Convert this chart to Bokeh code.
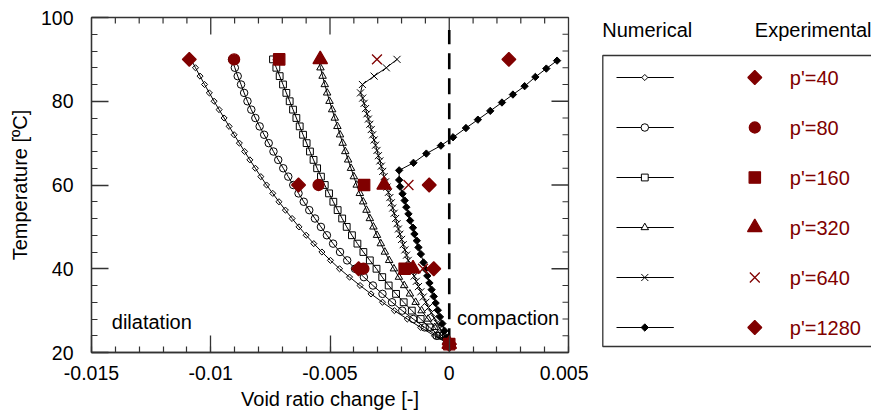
import numpy as np
from bokeh.plotting import figure
from bokeh.layouts import row
from bokeh.models import Range1d, LinearAxis, FixedTicker, Label
from bokeh.core.properties import value
from bokeh.embed import file_html
from bokeh.resources import INLINE

# ---------------- data ----------------
# numerical curves p'=40..320: one marker every 2 degC
T_num = [22, 24, 26, 28, 30, 32, 34, 36, 38, 40, 42, 44, 46, 48, 50, 52, 54, 56,
         58, 60, 62, 64, 66, 68, 70, 72, 74, 76, 78, 80, 82, 84, 86, 88, 90]
x_num_40 = [0, -0.00062, -0.00120, -0.00176, -0.00230, -0.00280, -0.00328, -0.00374,
            -0.00418, -0.00460, -0.00498, -0.00534, -0.00568, -0.00600, -0.00630,
            -0.00659, -0.00687, -0.00714, -0.00740, -0.00766, -0.00790, -0.00813,
            -0.00836, -0.00858, -0.00880, -0.00902, -0.00923, -0.00944, -0.00965,
            -0.00986, -0.01006, -0.01026, -0.01045, -0.01064, -0.01083]
x_num_80 = [0, -0.00053, -0.00103, -0.00151, -0.00197, -0.00240, -0.00280, -0.00320,
            -0.00358, -0.00395, -0.00428, -0.00458, -0.00487, -0.00513, -0.00538,
            -0.00563, -0.00587, -0.00610, -0.00632, -0.00654, -0.00675, -0.00696,
            -0.00717, -0.00737, -0.00757, -0.00776, -0.00795, -0.00813, -0.00830,
            -0.00846, -0.00860, -0.00873, -0.00887, -0.00899, -0.00911]
x_num_160 = [0, -0.00042, -0.00082, -0.00120, -0.00157, -0.00191, -0.00223, -0.00254,
             -0.00281, -0.00305, -0.00333, -0.00360, -0.00385, -0.00408, -0.00430,
             -0.00449, -0.00468, -0.00486, -0.00504, -0.00522, -0.00538, -0.00554,
             -0.00569, -0.00584, -0.00598, -0.00613, -0.00627, -0.00641, -0.00655,
             -0.00669, -0.00683, -0.00697, -0.00711, -0.00725, -0.00739]
x_num_320 = [0, -0.00031, -0.00061, -0.00089, -0.00116, -0.00141, -0.00165, -0.00189,
             -0.00211, -0.00232, -0.00252, -0.00270, -0.00287, -0.00303, -0.00318,
             -0.00333, -0.00347, -0.00361, -0.00375, -0.00388, -0.00400, -0.00412,
             -0.00424, -0.00436, -0.00447, -0.00458, -0.00469, -0.00480, -0.00491,
             -0.00502, -0.00512, -0.00522, -0.00531, -0.00540, -0.00548]
# numerical p'=640
T_num_640 = [22.00, 23.25, 24.50, 25.75, 27.00, 28.25, 29.50, 30.75, 32.00, 33.25,
             34.50, 35.75, 37.00, 38.25, 39.50, 40.75, 42.00, 43.25, 44.50, 45.75,
             47.00, 48.25, 49.50, 50.75, 52.00, 53.25, 54.50, 55.75, 57.00, 58.25,
             59.50, 60.75, 62.00, 63.25, 64.50, 65.75, 67.00, 68.25, 69.50, 70.75,
             72.00, 73.25, 74.50, 75.75, 77.00, 78.25, 79.50, 80.75, 82.00,
             84.0, 86.0, 88.0, 90.0]
x_num_640 = [0, -0.00013, -0.00026, -0.00039, -0.00051, -0.00063, -0.00075, -0.00087,
             -0.00098, -0.00109, -0.00119, -0.00129, -0.00138, -0.00147, -0.00156,
             -0.00164, -0.00172, -0.00179, -0.00186, -0.00193, -0.00200, -0.00207,
             -0.00213, -0.00219, -0.00225, -0.00231, -0.00237, -0.00243, -0.00249,
             -0.00255, -0.00261, -0.00267, -0.00273, -0.00279, -0.00285, -0.00291,
             -0.00297, -0.00303, -0.00309, -0.00315, -0.00321, -0.00327, -0.00333,
             -0.00339, -0.00345, -0.00351, -0.00357, -0.00363, -0.00372,
             -0.00364, -0.00315, -0.00264, -0.00219]
# numerical p'=1280
T_num_1280 = [22.0, 23.6, 25.2, 26.9, 28.5, 30.1, 31.8, 33.4, 35.0, 36.6, 38.3, 39.9,
              41.5, 43.5, 45.1, 46.7, 48.3, 49.8, 51.5, 53.1, 54.7, 56.3, 57.9, 59.6,
              61.2, 63.5, 65.3, 67.5, 69.4, 71.4, 73.6, 75.6, 77.7, 79.7, 81.6, 83.6,
              85.8, 87.8, 89.7]
x_num_1280 = [0, -0.00010, -0.00020, -0.00029, -0.00039, -0.00048, -0.00057, -0.00065,
              -0.00074, -0.00083, -0.00092, -0.00100, -0.00108, -0.00119, -0.00129,
              -0.00136, -0.00146, -0.00152, -0.00164, -0.00171, -0.00180, -0.00187,
              -0.00196, -0.00206, -0.00210, -0.00210, -0.00150, -0.00096, -0.00035,
              0.00016, 0.00070, 0.00120, 0.00172, 0.00221, 0.00267, 0.00316, 0.00361,
              0.00407, 0.00452]

# experimental points
T_exp = [22, 40, 60, 90]
x_exp_40 = [0, -0.00380, -0.00632, -0.01090]
x_exp_80 = [0, -0.00360, -0.00548, -0.00902]
x_exp_160 = [0, -0.00187, -0.00357, -0.00713]
x_exp_320 = [0, -0.00152, -0.00273, -0.00541]
x_exp_640 = [0, -0.00110, -0.00171, -0.00303]
x_exp_1280 = [0, -0.00065, -0.00084, 0.00250]

series_labels = ["p'=40", "p'=80", "p'=160", "p'=320", "p'=640", "p'=1280"]

# zero line (compaction / dilatation boundary)
zero_x = [0, 0]
zero_T = [22, 97]

x_ticks = [-0.015, -0.01, -0.005, 0, 0.005]
x_tick_labels = ["-0.015", "-0.01", "-0.005", "0", "0.005"]
y_ticks = [20, 40, 60, 80, 100]
y_tick_labels = ["20", "40", "60", "80", "100"]

# ---------------- style ----------------
FONT = "Liberation Sans"
RED = "#800000"
AX = "#333333"
FS = "19.5px"
X0, X1, Y0, Y1 = -0.015, 0.005, 20, 100
W1, H = 588, 416
BL, BT, BR, BB = 91, 17, 20, 64
PX_PER_X = (W1 - BL - BR) / (X1 - X0)
PX_PER_Y = (H - BT - BB) / (Y1 - Y0)
MAJ, MINL = 17, 6

# marker styles: (marker, size, angle, filled)
num_style = [("square", 4.3, np.pi / 4, False), ("circle", 7.5, 0, False),
             ("square", 6.8, 0, False), ("triangle", 7.5, 0, False),
             ("x", 10, 0, False), ("square", 5.2, np.pi / 4, True)]
exp_style = [("square", 9.8, np.pi / 4), ("circle", 11, 0), ("square", 11.3, 0),
             ("triangle", 14.5, 0), ("x", 14, 0), ("square", 9.8, np.pi / 4)]

p = figure(width=W1, height=H, x_range=Range1d(X0, X1), y_range=Range1d(Y0, Y1),
           output_backend="svg", toolbar_location=None,
           min_border_left=BL, min_border_top=BT, min_border_right=BR,
           min_border_bottom=BB, x_axis_location=None, y_axis_location=None)
p.outline_line_color = AX
p.outline_line_width = 1.3
p.xgrid.visible = False
p.ygrid.visible = False
p.background_fill_color = "white"
p.border_fill_color = "white"

x_minor = [round(X0 + 0.001 * i, 4) for i in range(21)]
y_minor = [Y0 + 4 * i for i in range(21)]


def make_axis(label, ticks, minor, labels):
    ax = LinearAxis(axis_label=label)
    ax.ticker = FixedTicker(ticks=ticks, minor_ticks=minor)
    ax.major_tick_in = MAJ
    ax.major_tick_out = 0
    ax.minor_tick_in = MINL
    ax.minor_tick_out = 0
    ax.axis_line_color = AX
    ax.axis_line_width = 1.3
    ax.major_tick_line_color = AX
    ax.major_tick_line_width = 1.3
    ax.minor_tick_line_color = AX
    ax.minor_tick_line_width = 1.2
    ax.major_label_overrides = {t: l for t, l in zip(ticks, labels)}
    ax.major_label_text_font = FONT
    ax.major_label_text_font_size = FS
    ax.major_label_text_color = "black"
    ax.axis_label_text_font = FONT
    ax.axis_label_text_font_size = "20px"
    ax.axis_label_text_font_style = "normal"
    ax.axis_label_text_color = "black"
    return ax


xb = make_axis("Void ratio change [-]", x_ticks, x_minor, x_tick_labels)
xb.major_label_standoff = 13
xb.axis_label_standoff = 5
p.add_layout(xb, "below")
yl = make_axis("Temperature [ºC]", y_ticks, y_minor, y_tick_labels)
yl.major_label_standoff = 18
yl.axis_label_standoff = 7
p.add_layout(yl, "left")

# inward ticks on the top and right frame edges
xt_maj = x_ticks[1:-1]
xt_min = [v for v in x_minor if v not in x_ticks]
p.segment(x0=xt_maj, y0=[Y1] * len(xt_maj), x1=xt_maj,
          y1=[Y1 - MAJ / PX_PER_Y] * len(xt_maj), line_color=AX, line_width=1.3)
p.segment(x0=xt_min, y0=[Y1] * len(xt_min), x1=xt_min,
          y1=[Y1 - MINL / PX_PER_Y] * len(xt_min), line_color=AX, line_width=1.2)
yt_maj = y_ticks[1:-1]
yt_min = [v for v in y_minor if v not in y_ticks]
p.segment(x0=[X1] * len(yt_maj), y0=yt_maj, x1=[X1 - MAJ / PX_PER_X] * len(yt_maj),
          y1=yt_maj, line_color=AX, line_width=1.3)
p.segment(x0=[X1] * len(yt_min), y0=yt_min, x1=[X1 - MINL / PX_PER_X] * len(yt_min),
          y1=yt_min, line_color=AX, line_width=1.2)

# zero dashed line
p.line(zero_x, zero_T, line_color="black", line_width=2.6, line_dash="16 9")

num_x = [x_num_40, x_num_80, x_num_160, x_num_320, x_num_640, x_num_1280]
num_T = [T_num, T_num, T_num, T_num, T_num_640, T_num_1280]
for xs, ts, (mk, sz, ang, filled) in zip(num_x, num_T, num_style):
    p.line(xs, ts, line_color="black", line_width=1)
    p.scatter(xs, ts, marker=mk, size=sz, angle=ang, line_color="black",
              line_width=1, fill_color="black" if filled else None)

exp_x = [x_exp_40, x_exp_80, x_exp_160, x_exp_320, x_exp_640, x_exp_1280]
for xs, (mk, sz, ang) in zip(exp_x, exp_style):
    p.scatter(xs, T_exp, marker=mk, size=sz, angle=ang, line_color=RED,
              line_width=1.3, fill_color=RED)

p.add_layout(Label(x=-0.01415, y=27.4, text="dilatation", text_font=FONT,
                   text_font_size="20px", text_color="black", text_baseline="middle"))
p.add_layout(Label(x=0.00032, y=28.3, text="compaction", text_font=FONT,
                   text_font_size="20px", text_color="black", text_baseline="middle"))

# ---------------- legend panel (data units = page pixels) ----------------
LW = 871 - W1
q = figure(width=LW, height=H, x_range=Range1d(0, LW), y_range=Range1d(H - BB, BT),
           output_backend="svg", toolbar_location=None,
           min_border_left=0, min_border_right=0, min_border_top=BT,
           min_border_bottom=BB, x_axis_location=None, y_axis_location=None)
q.outline_line_color = None
q.xgrid.visible = False
q.ygrid.visible = False
q.border_fill_color = "white"

q.quad(left=[14.3], right=[LW + 20], top=[55], bottom=[346], fill_color=None,
       line_color=AX, line_width=1.3)
q.text(x=[13.7, 166.3], y=[29.5, 29.5], text=["Numerical", "Experimental"],
       text_font=value(FONT), text_font_size=value("20px"), text_color="black",
       text_baseline="middle")

row_y = [77, 127, 177, 227, 277, 327]
for i, ((mk, sz, ang, filled), (emk, esz, eang)) in enumerate(zip(num_style, exp_style)):
    y = row_y[i]
    q.line([28, 85.3], [y, y], line_color="black", line_width=1)
    q.scatter([56.3], [y], marker=mk, size=sz, angle=ang, line_color="black",
              line_width=1, fill_color="black" if filled else "white")
    q.scatter([166.3], [y], marker=emk, size=esz, angle=eang, line_color=RED,
              line_width=1.3, fill_color=RED)
q.text(x=[201.3] * 6, y=row_y, text=series_labels,
       text_font=value(FONT), text_font_size=value("20px"), text_color=RED,
       text_baseline="middle")

layout = row(p, q)
open("out.html", "w").write(file_html(layout, INLINE))
